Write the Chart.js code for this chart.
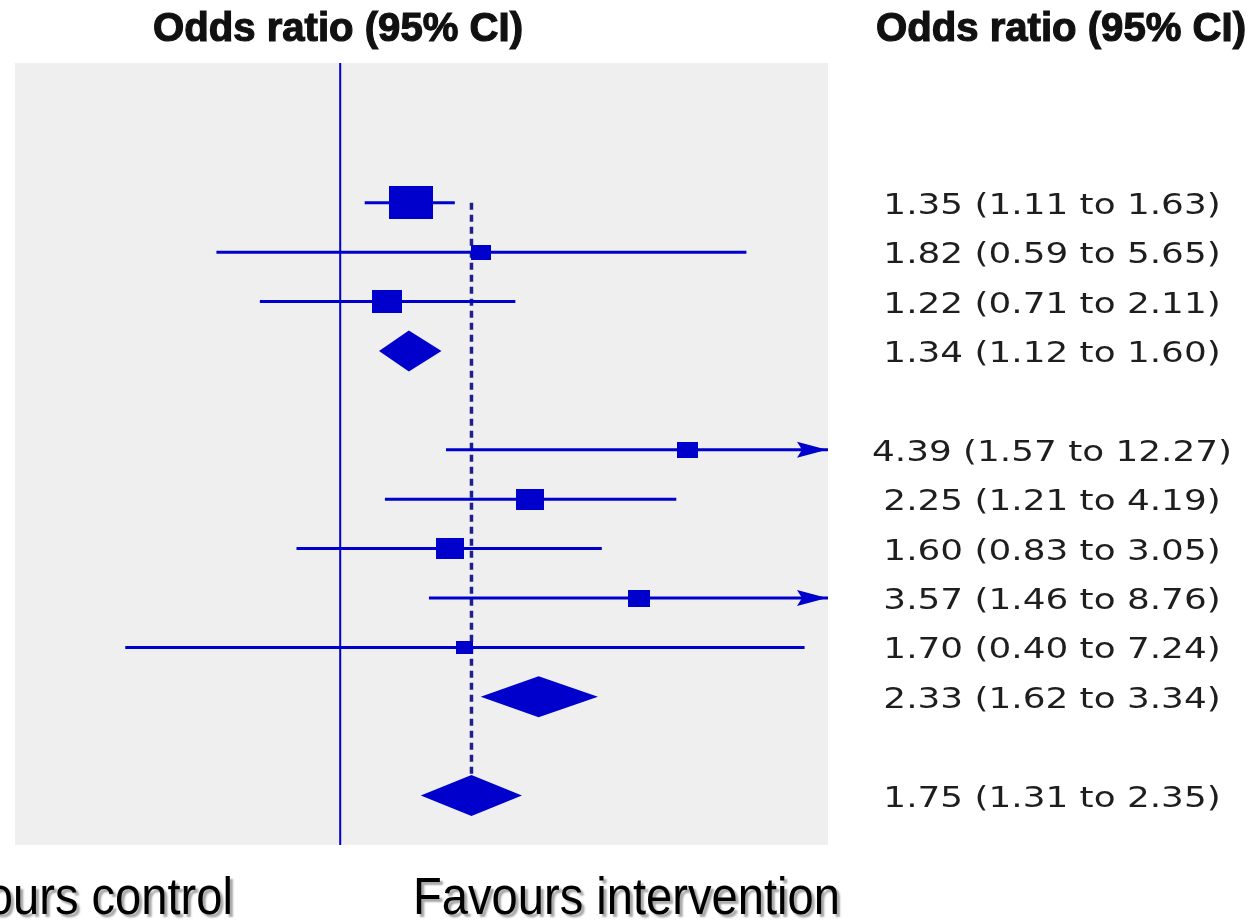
<!DOCTYPE html>
<html>
<head>
<meta charset="utf-8">
<script src="https://cdn.jsdelivr.net/npm/chart.js@4/dist/chart.umd.min.js"></script>
<style>
  html, body { margin: 0; padding: 0; background: #fff; }
  canvas { display: block; }
</style>
</head>
<body>
<canvas id="forest" width="1258" height="920"></canvas>
<script>
// studies (row index = position from the top of the panel)
const studyRow = [0, 1, 2, 5, 6, 7, 8, 9];
const studyOR = [1.35, 1.82, 1.22, 4.39, 2.25, 1.60, 3.57, 1.70];
const studyLow = [1.11, 0.59, 0.71, 1.57, 1.21, 0.83, 1.46, 0.40];
const studyHigh = [1.63, 5.65, 2.11, 12.27, 4.19, 3.05, 8.76, 7.24];
const studyWeight = [94, 19, 46, 22, 38, 38, 25, 15];

// pooled estimates (diamonds)
const pooledRow = [3, 10, 12];
const pooledOR = [1.34, 2.33, 1.75];
const pooledLow = [1.12, 1.62, 1.31];
const pooledHigh = [1.60, 3.34, 2.35];
// drawn width of each diamond
const diamondLow = [1.18, 1.82, 1.41];
const diamondHigh = [1.54, 3.00, 2.17];

const axisMin = 0.25;
const axisMax = 8;
const nullValue = 1;
const overallOR = 1.75;

const headerText = 'Odds ratio (95% CI)';
const favourLabels = ['Favours control', 'Favours intervention'];

const BLUE = '#0000cc';

const fmt = v => v.toFixed(2);
const ciText = (or, lo, hi) => `${fmt(or)} (${fmt(lo)} to ${fmt(hi)})`;

// box markers: area ~ weight, image slightly wider than tall
function boxImage(w) {
  const h = 34 * Math.sqrt(w / 100);
  const c = document.createElement('canvas');
  c.width = Math.round(h * 1.32);
  c.height = Math.round(h);
  const g = c.getContext('2d');
  g.fillStyle = BLUE;
  g.fillRect(0, 0, c.width, c.height);
  return c;
}

function drawText(ctx, text, x, y, font, sx, align, stroke) {
  ctx.save();
  ctx.font = font;
  ctx.textAlign = align;
  ctx.textBaseline = 'alphabetic';
  ctx.translate(x, y);
  ctx.scale(sx, 1);
  ctx.fillText(text, 0, 0);
  if (stroke) ctx.strokeText(text, 0, 0);
  ctx.restore();
}

function textScale(ctx, text, font, width) {
  ctx.save();
  ctx.font = font;
  const sx = width / ctx.measureText(text).width;
  ctx.restore();
  return sx;
}

const forestPlugin = {
  id: 'forest',
  beforeDraw(chart) {
    const { ctx, chartArea: a } = chart;
    ctx.save();
    ctx.fillStyle = '#efefef';
    ctx.fillRect(a.left, a.top, a.right - a.left, a.bottom - a.top);
    ctx.restore();
  },
  beforeDatasetsDraw(chart) {
    const { ctx, chartArea: a, scales: { x, y } } = chart;
    ctx.save();
    // line of no effect
    const x1 = x.getPixelForValue(nullValue);
    ctx.strokeStyle = BLUE;
    ctx.lineWidth = 2;
    ctx.beginPath();
    ctx.moveTo(x1, a.top);
    ctx.lineTo(x1, a.bottom);
    ctx.stroke();
    // overall estimate, dashed
    const last = pooledRow.length - 1;
    const xo = x.getPixelForValue(overallOR);
    ctx.strokeStyle = '#20208c';
    ctx.lineWidth = 3.5;
    ctx.setLineDash([7, 5]);
    ctx.beginPath();
    ctx.moveTo(xo, y.getPixelForValue(studyRow[0]));
    ctx.lineTo(xo, y.getPixelForValue(pooledRow[last] - 0.415));
    ctx.stroke();
    ctx.restore();
  },
  afterDatasetsDraw(chart) {
    const { ctx, chartArea: a, scales: { x, y } } = chart;
    ctx.save();
    ctx.fillStyle = BLUE;

    // arrows where the interval runs past the axis
    studyHigh.forEach((hi, i) => {
      if (hi <= axisMax) return;
      const py = y.getPixelForValue(studyRow[i]);
      const tip = a.right - 1;
      ctx.beginPath();
      ctx.moveTo(tip, py);
      ctx.lineTo(tip - 30, py - 8);
      ctx.lineTo(tip - 25, py);
      ctx.lineTo(tip - 30, py + 8);
      ctx.closePath();
      ctx.fill();
    });

    // diamonds
    pooledRow.forEach((r, i) => {
      const cx = x.getPixelForValue(pooledOR[i]);
      ctx.beginPath();
      ctx.moveTo(x.getPixelForValue(diamondLow[i]), y.getPixelForValue(r));
      ctx.lineTo(cx, y.getPixelForValue(r - 0.415));
      ctx.lineTo(x.getPixelForValue(diamondHigh[i]), y.getPixelForValue(r));
      ctx.lineTo(cx, y.getPixelForValue(r + 0.415));
      ctx.closePath();
      ctx.fill();
    });
    ctx.restore();

    // column headers, heavy and condensed
    ctx.save();
    ctx.fillStyle = '#111';
    ctx.strokeStyle = '#111';
    ctx.lineWidth = 1.2;
    const hFont = 'bold 40px "Liberation Sans", sans-serif';
    const hs = textScale(ctx, headerText, hFont, 370);
    drawText(ctx, headerText, 338, 41, hFont, hs, 'center', true);
    drawText(ctx, headerText, 1061, 41, hFont, hs, 'center', true);

    // estimates column
    ctx.fillStyle = '#1e1e1e';
    const vFont = '29px "DejaVu Sans", sans-serif';
    studyRow.forEach((r, i) => {
      drawText(ctx, ciText(studyOR[i], studyLow[i], studyHigh[i]),
        1052, y.getPixelForValue(r) + 11, vFont, 1.235, 'center');
    });
    pooledRow.forEach((r, i) => {
      drawText(ctx, ciText(pooledOR[i], pooledLow[i], pooledHigh[i]),
        1052, y.getPixelForValue(r) + 11, vFont, 1.235, 'center');
    });
    ctx.restore();

    // favours labels with drop shadow
    ctx.save();
    ctx.fillStyle = '#000';
    ctx.shadowColor = 'rgba(0,0,0,0.35)';
    ctx.shadowOffsetX = 3;
    ctx.shadowOffsetY = 3;
    ctx.shadowBlur = 2;
    const fFont = '51px "Liberation Sans", Arial, sans-serif';
    const fs = textScale(ctx, favourLabels[1], fFont, 427);
    drawText(ctx, favourLabels[0], 233, 914, fFont, fs, 'right');
    drawText(ctx, favourLabels[1], 413, 914, fFont, fs, 'left');
    ctx.restore();
  }
};

const ciDatasets = studyRow.map((r, i) => ({
  type: 'scatter',
  showLine: true,
  data: [{ x: studyLow[i], y: r }, { x: studyHigh[i], y: r }],
  borderColor: BLUE,
  borderWidth: 3,
  pointRadius: 0,
  order: 1
}));

const boxDataset = {
  type: 'scatter',
  data: studyRow.map((r, i) => ({ x: studyOR[i], y: r })),
  pointStyle: studyWeight.map(boxImage),
  pointRadius: 1,
  order: 0
};

new Chart(document.getElementById('forest'), {
  type: 'scatter',
  data: { datasets: [boxDataset, ...ciDatasets] },
  options: {
    responsive: false,
    animation: false,
    events: [],
    layout: { padding: { left: 15, right: 430, top: 63, bottom: 75 } },
    plugins: {
      legend: { display: false },
      tooltip: { enabled: false }
    },
    scales: {
      x: { type: 'logarithmic', min: axisMin, max: axisMax, display: false },
      y: { type: 'linear', min: -2.83, max: 13, reverse: true, display: false }
    }
  },
  plugins: [forestPlugin]
});
</script>
</body>
</html>
